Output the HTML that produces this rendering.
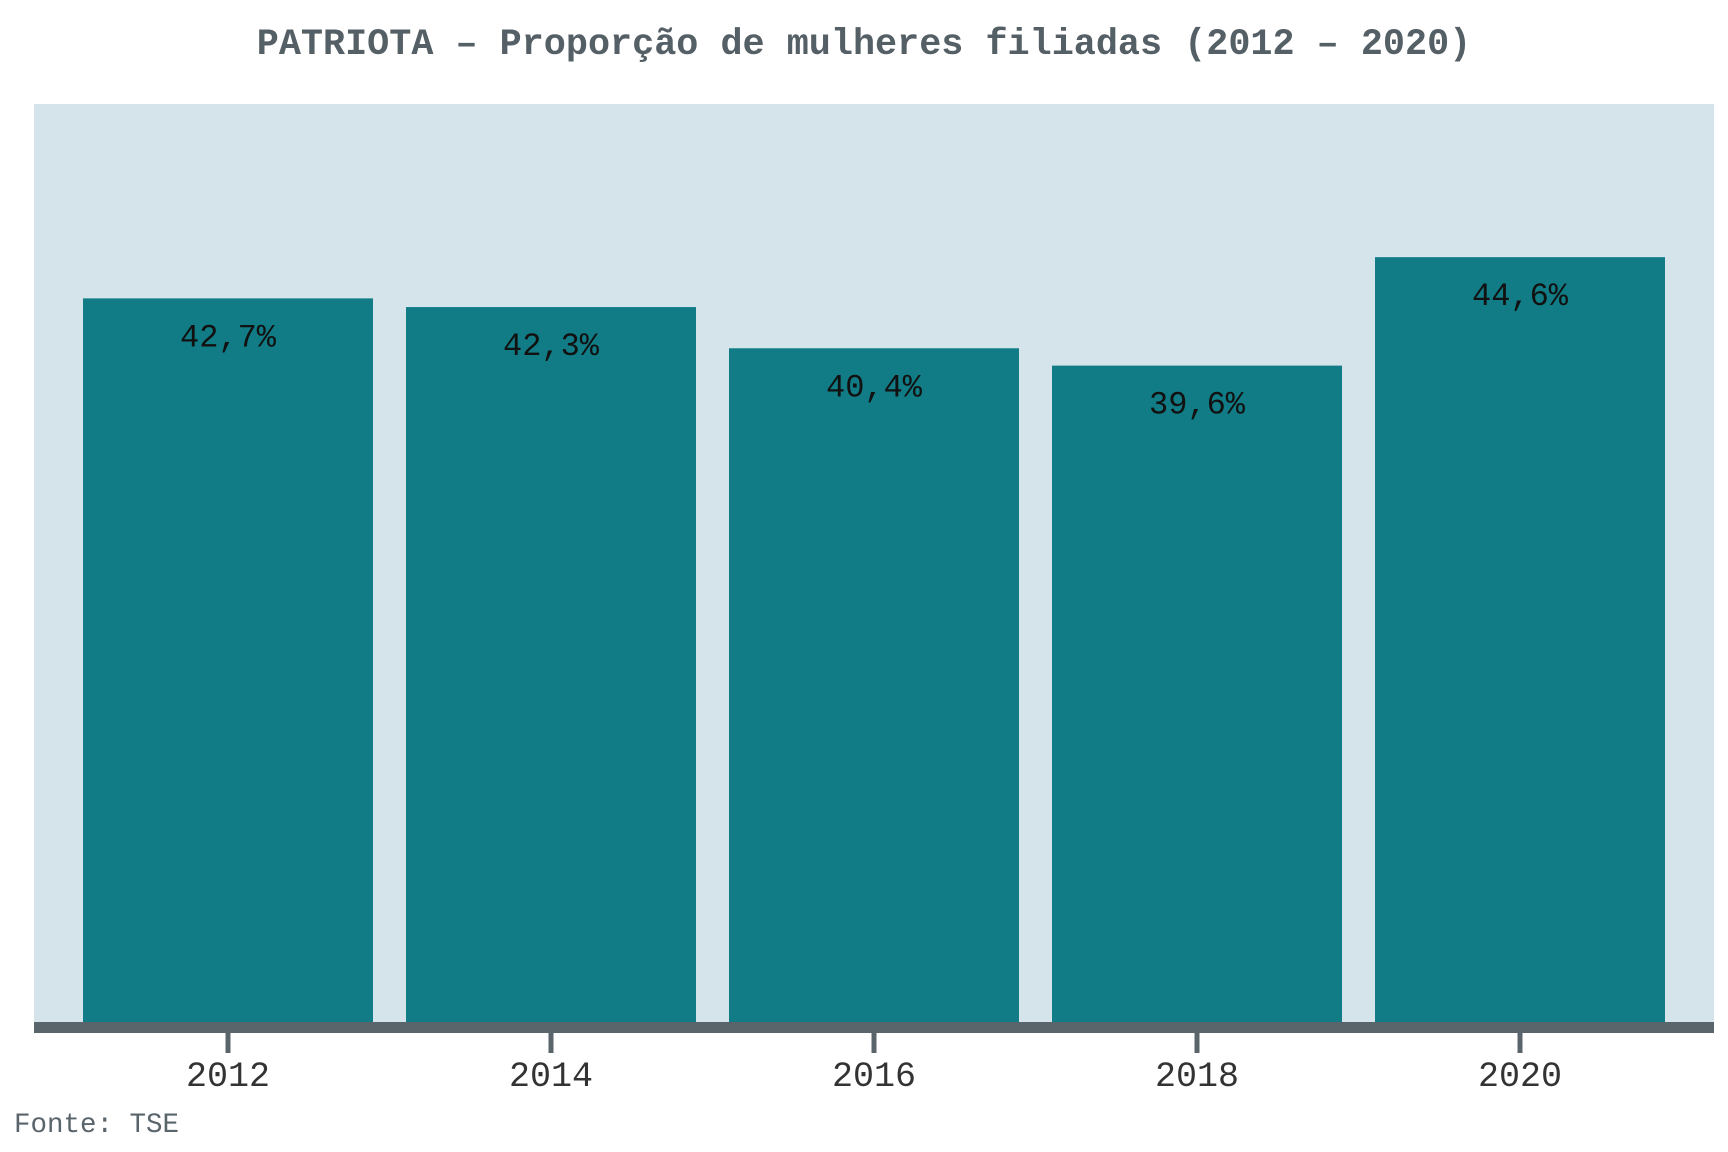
<!DOCTYPE html>
<html><head><meta charset="utf-8"><style>
body{margin:0;background:#fff;width:1728px;height:1152px;overflow:hidden}
svg{display:block}
</style></head><body>
<svg width="1728" height="1152" viewBox="0 0 1728 1152">
<text x="864" y="54" text-anchor="middle" font-family="Liberation Mono, monospace" font-weight="bold" font-size="36.8" fill="#555f66">PATRIOTA – Proporção de mulheres filiadas (2012 – 2020)</text>
<rect x="34" y="104" width="1680" height="923" fill="#d4e4ea"/>
<g id="bars"></g>
<rect x="34" y="1022" width="1680" height="11" fill="#5a646b"/>
<g id="ticks"></g>
<text x="14" y="1132" font-family="Liberation Mono, monospace" font-size="27.5" fill="#5a646b">Fonte: TSE</text>
</svg>
<script>
const categories=["2012","2014","2016","2018","2020"];
const values=[42.7,42.3,40.4,39.6,44.6];
const labels=["42,7%","42,3%","40,4%","39,6%","44,6%"];
const NS="http://www.w3.org/2000/svg";
const base=1025,yMin=9.2,pxPer=21.69,x0=83,step=323,bw=290;
const y=v=>base-(v-yMin)*pxPer;
const xc=i=>x0+i*step+bw/2;
const bars=document.getElementById('bars'),ticks=document.getElementById('ticks');
categories.forEach((c,i)=>{
  const r=document.createElementNS(NS,'rect');
  r.setAttribute('x',xc(i)-bw/2);r.setAttribute('y',y(values[i]));
  r.setAttribute('width',bw);r.setAttribute('height',base-y(values[i]));
  r.setAttribute('fill','#117c85');
  
  
  bars.appendChild(r);
  const t=document.createElementNS(NS,'text');
  t.setAttribute('x',xc(i));t.setAttribute('y',y(values[i])+48);
  t.setAttribute('text-anchor','middle');t.setAttribute('font-family','Liberation Mono, monospace');
  t.setAttribute('font-size','32');t.setAttribute('fill','#111');
  t.textContent=labels[i];
  
  
  bars.appendChild(t);
  const tk=document.createElementNS(NS,'rect');
  tk.setAttribute('x',xc(i)-2.5);tk.setAttribute('y',1033);tk.setAttribute('width',5);tk.setAttribute('height',20);
  tk.setAttribute('fill','#5a646b');
  
  
  ticks.appendChild(tk);
  const tl=document.createElementNS(NS,'text');
  tl.setAttribute('x',xc(i));tl.setAttribute('y',1086);tl.setAttribute('text-anchor','middle');
  tl.setAttribute('font-family','Liberation Mono, monospace');tl.setAttribute('font-size','35');tl.setAttribute('fill','#333');
  tl.textContent=c;
  
  
  ticks.appendChild(tl);
});
</script>
</body></html>
